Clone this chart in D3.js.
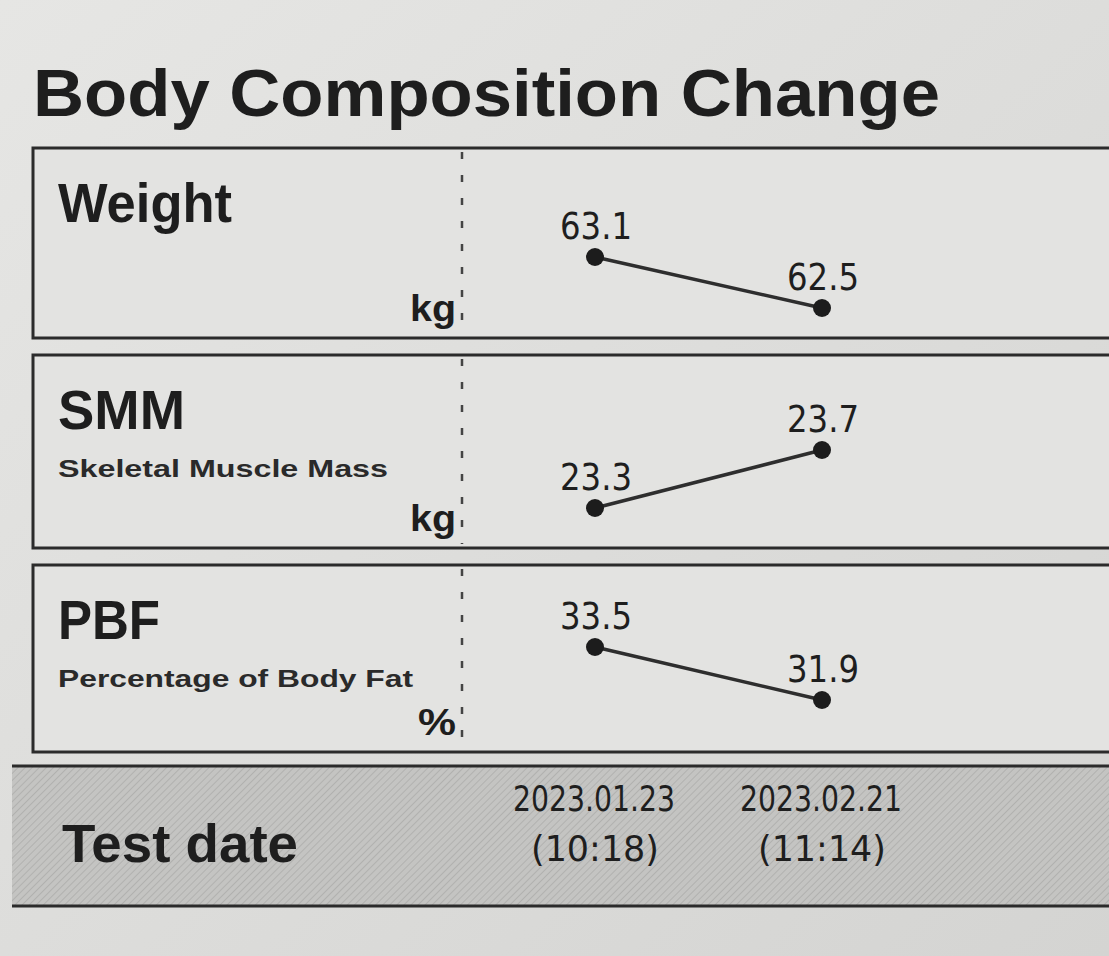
<!DOCTYPE html>
<html><head><meta charset="utf-8">
<script src="https://cdn.jsdelivr.net/npm/d3@7"></script>
<style>body{margin:0;background:#dcdcda;}svg{display:block;}</style>
</head><body>
<script>
// ---- data ----
const metrics = ["Weight", "SMM", "PBF"];
const subtitles = ["", "Skeletal Muscle Mass", "Percentage of Body Fat"];
const units = ["kg", "kg", "%"];
const testDates = ["2023.01.23", "2023.02.21"];
const testTimes = ["(10:18)", "(11:14)"];
const weightValues = [63.1, 62.5];
const smmValues = [23.3, 23.7];
const pbfValues = [33.5, 31.9];
const seriesValues = [weightValues, smmValues, pbfValues];

// ---- layout ----
const W = 1109, H = 956;
const svg = d3.select("body").append("svg").attr("width", W).attr("height", H);
const defs = svg.append("defs");
const bg = defs.append("linearGradient").attr("id","bg").attr("x1",0).attr("y1",0).attr("x2",1).attr("y2",1);
bg.append("stop").attr("offset","0").attr("stop-color","#e6e6e4");
bg.append("stop").attr("offset","1").attr("stop-color","#d4d4d2");
svg.append("rect").attr("width",W).attr("height",H).attr("fill","url(#bg)");

const hatch = defs.append("pattern").attr("id","hatch").attr("patternUnits","userSpaceOnUse")
  .attr("width",5).attr("height",5).attr("patternTransform","rotate(45)");
hatch.append("rect").attr("width",5).attr("height",5).attr("fill","#c4c4c2");
hatch.append("line").attr("x1",0).attr("y1",0).attr("x2",0).attr("y2",5).attr("stroke","#acacaa").attr("stroke-width",1.6);

const boldFont = "Liberation Sans, Arial, sans-serif";
const labelFont = "DejaVu Sans Condensed, Liberation Sans Narrow, sans-serif";

svg.append("text").attr("x",33).attr("y",116)
  .attr("font-family",boldFont).attr("font-weight","bold")
  .attr("font-size",66).attr("fill","#1e1e1e")
  .attr("textLength",907).attr("lengthAdjust","spacingAndGlyphs")
  .text("Body Composition Change");

const panelTop = [148, 355, 565];
const panelBottom = [338, 548, 752];
const panelLeft = 33, dividerX = 462;
const hiOff = [109, 95, 82], loOff = [160, 153, 135];
const titleW = [174, 127, 102];
const subW = [0, 330, 355];
const unitW = [46, 46, 38];

const x = d3.scalePoint().domain(testDates).range([595, 822]);

metrics.forEach((m, i) => {
  const g = svg.append("g");
  const t = panelTop[i], b = panelBottom[i];
  g.append("rect").attr("x",panelLeft).attr("y",t).attr("width",W).attr("height",b-t)
    .attr("fill","#e3e3e1").attr("stroke","#2b2b2b").attr("stroke-width",3);
  g.append("line").attr("x1",dividerX).attr("x2",dividerX).attr("y1",t+4).attr("y2",b-4)
    .attr("stroke","#444").attr("stroke-width",2.5).attr("stroke-dasharray","7,16");
  g.append("text").attr("x",58).attr("y", t+74)
    .attr("font-family",boldFont).attr("font-weight","bold")
    .attr("font-size",56).attr("fill","#1e1e1e")
    .attr("textLength",titleW[i]).attr("lengthAdjust","spacingAndGlyphs").text(m);
  if (subtitles[i]) {
    g.append("text").attr("x",58).attr("y",t+122)
      .attr("font-family",boldFont).attr("font-weight","bold")
      .attr("font-size",24).attr("fill","#2a2a2a")
      .attr("textLength",subW[i]).attr("lengthAdjust","spacingAndGlyphs").text(subtitles[i]);
  }
  g.append("text").attr("x",456).attr("y",b-17).attr("text-anchor","end")
    .attr("font-family",boldFont).attr("font-weight","bold")
    .attr("font-size",36).attr("fill","#1e1e1e")
    .attr("textLength",unitW[i]).attr("lengthAdjust","spacingAndGlyphs").text(units[i]);

  const vals = seriesValues[i];
  const y = d3.scaleLinear().domain([d3.min(vals), d3.max(vals)]).range([t+loOff[i], t+hiOff[i]]);
  const pts = vals.map((v, j) => ({v, d: testDates[j]}));
  g.append("path").datum(pts)
    .attr("d", d3.line().x(p => x(p.d)).y(p => y(p.v)))
    .attr("fill","none").attr("stroke","#2e2e2e").attr("stroke-width",3.5);
  g.selectAll("circle").data(pts).enter().append("circle")
    .attr("cx", p => x(p.d)).attr("cy", p => y(p.v)).attr("r", 9).attr("fill","#1c1c1c");
  g.selectAll("text.val").data(pts).enter().append("text").attr("class","val")
    .attr("x", p => x(p.d) - 35).attr("y", p => y(p.v) - 18)
    .attr("font-family", labelFont).attr("font-size",38).attr("fill","#1e1e1e")
    .attr("textLength",72).attr("lengthAdjust","spacingAndGlyphs")
    .text(p => p.v.toFixed(1));
});

// test date band
const bandTop = 766, bandBottom = 906;
svg.append("rect").attr("x",12).attr("y",bandTop).attr("width",W).attr("height",bandBottom-bandTop)
  .attr("fill","url(#hatch)");
svg.append("line").attr("x1",12).attr("x2",W).attr("y1",bandTop).attr("y2",bandTop).attr("stroke","#2b2b2b").attr("stroke-width",3);
svg.append("line").attr("x1",12).attr("x2",W).attr("y1",bandBottom).attr("y2",bandBottom).attr("stroke","#2b2b2b").attr("stroke-width",3);
svg.append("text").attr("x",62).attr("y",862)
  .attr("font-family",boldFont).attr("font-weight","bold")
  .attr("font-size",54).attr("fill","#1e1e1e")
  .attr("textLength",236).attr("lengthAdjust","spacingAndGlyphs").text("Test date");
svg.selectAll("text.date").data(testDates).enter().append("text").attr("class","date")
  .attr("x", d => x(d) - 82).attr("y", 811)
  .attr("font-family", labelFont).attr("font-size",36).attr("fill","#1e1e1e")
  .attr("textLength",162).attr("lengthAdjust","spacingAndGlyphs").text(d => d);
svg.selectAll("text.time").data(testDates).enter().append("text").attr("class","time")
  .attr("x", d => x(d) - 64).attr("y", 861)
  .attr("font-family", labelFont).attr("font-size",36).attr("fill","#1e1e1e")
  .attr("textLength",128).attr("lengthAdjust","spacingAndGlyphs").text((d, i) => testTimes[i]);
</script>
</body></html>
